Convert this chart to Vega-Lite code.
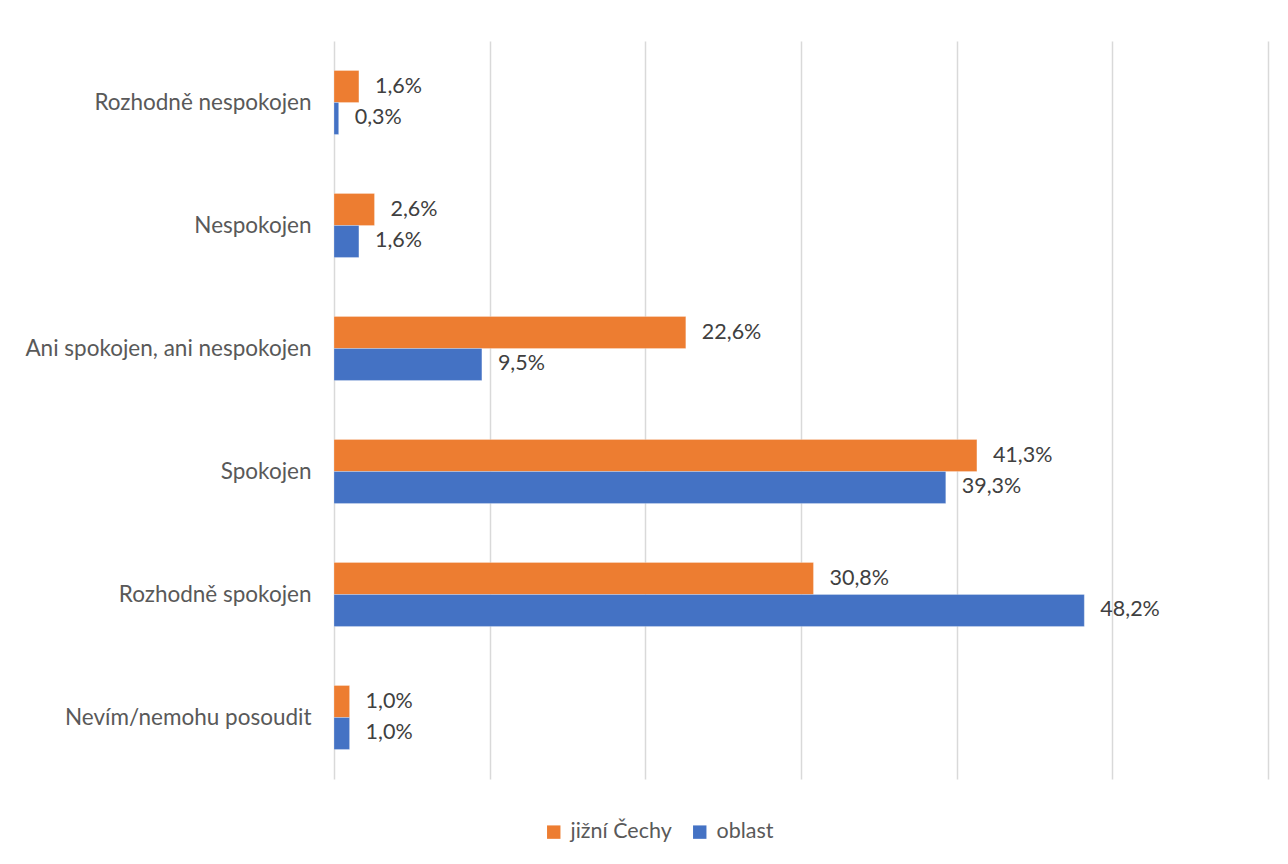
{
  "$schema": "https://vega.github.io/schema/vega-lite/v6.json",
  "autosize": {"type": "none"},
  "width": 934,
  "height": 738,
  "padding": {"left": 334, "top": 41, "right": 20, "bottom": 85},
  "background": "white",
  "config": {
    "view": {"stroke": null},
    "font": "Lato",
    "locale": {
      "number": {"decimal": ",", "thousands": " ", "grouping": [3], "currency": ["", " Kč"]}
    }
  },
  "data": {
    "values": [
      {"kategorie": "Rozhodně nespokojen", "serie": "jižní Čechy", "hodnota": 0.016},
      {"kategorie": "Rozhodně nespokojen", "serie": "oblast", "hodnota": 0.003},
      {"kategorie": "Nespokojen", "serie": "jižní Čechy", "hodnota": 0.026},
      {"kategorie": "Nespokojen", "serie": "oblast", "hodnota": 0.016},
      {"kategorie": "Ani spokojen, ani nespokojen", "serie": "jižní Čechy", "hodnota": 0.226},
      {"kategorie": "Ani spokojen, ani nespokojen", "serie": "oblast", "hodnota": 0.095},
      {"kategorie": "Spokojen", "serie": "jižní Čechy", "hodnota": 0.413},
      {"kategorie": "Spokojen", "serie": "oblast", "hodnota": 0.393},
      {"kategorie": "Rozhodně spokojen", "serie": "jižní Čechy", "hodnota": 0.308},
      {"kategorie": "Rozhodně spokojen", "serie": "oblast", "hodnota": 0.482},
      {"kategorie": "Nevím/nemohu posoudit", "serie": "jižní Čechy", "hodnota": 0.010},
      {"kategorie": "Nevím/nemohu posoudit", "serie": "oblast", "hodnota": 0.010}
    ]
  },
  "encoding": {
    "y": {
      "field": "kategorie",
      "type": "nominal",
      "sort": null,
      "scale": {"paddingInner": 0.48, "paddingOuter": 0.24},
      "axis": {
        "title": null,
        "ticks": false,
        "domain": false,
        "labelFontSize": 22.5,
        "labelColor": "#595959",
        "labelPadding": 23,
        "labelLimit": 400,
        "labelFont": "Lato"
      }
    },
    "yOffset": {
      "field": "serie",
      "type": "nominal",
      "sort": ["jižní Čechy", "oblast"]
    },
    "x": {
      "field": "hodnota",
      "type": "quantitative",
      "scale": {"domain": [0, 0.6], "nice": false},
      "axis": {
        "title": null,
        "labels": false,
        "ticks": false,
        "domain": false,
        "values": [0, 0.1, 0.2, 0.3, 0.4, 0.5, 0.6],
        "gridColor": "#D9D9D9",
        "gridWidth": 1.5
      }
    }
  },
  "layer": [
    {
      "mark": {"type": "bar", "stroke": "white", "strokeWidth": 0.5, "strokeOpacity": 0.5},
      "encoding": {
        "color": {
          "field": "serie",
          "type": "nominal",
          "sort": ["jižní Čechy", "oblast"],
          "scale": {"domain": ["jižní Čechy", "oblast"], "range": ["#ED7D31", "#4472C4"]},
          "legend": {
            "title": null,
            "orient": "none",
            "direction": "horizontal",
            "legendX": 209,
            "legendY": 780,
            "symbolType": "square",
            "symbolSize": 180,
            "symbolStrokeWidth": 0,
            "labelFontSize": 21.5,
            "labelColor": "#595959",
            "labelFont": "Lato",
            "columnPadding": 17,
            "labelOffset": 6
          }
        }
      }
    },
    {
      "mark": {"type": "text", "align": "left", "baseline": "middle", "dx": 16, "fontSize": 21.5, "color": "#404040", "font": "Lato"},
      "encoding": {
        "text": {"field": "hodnota", "type": "quantitative", "format": ".1%"}
      }
    }
  ]
}
